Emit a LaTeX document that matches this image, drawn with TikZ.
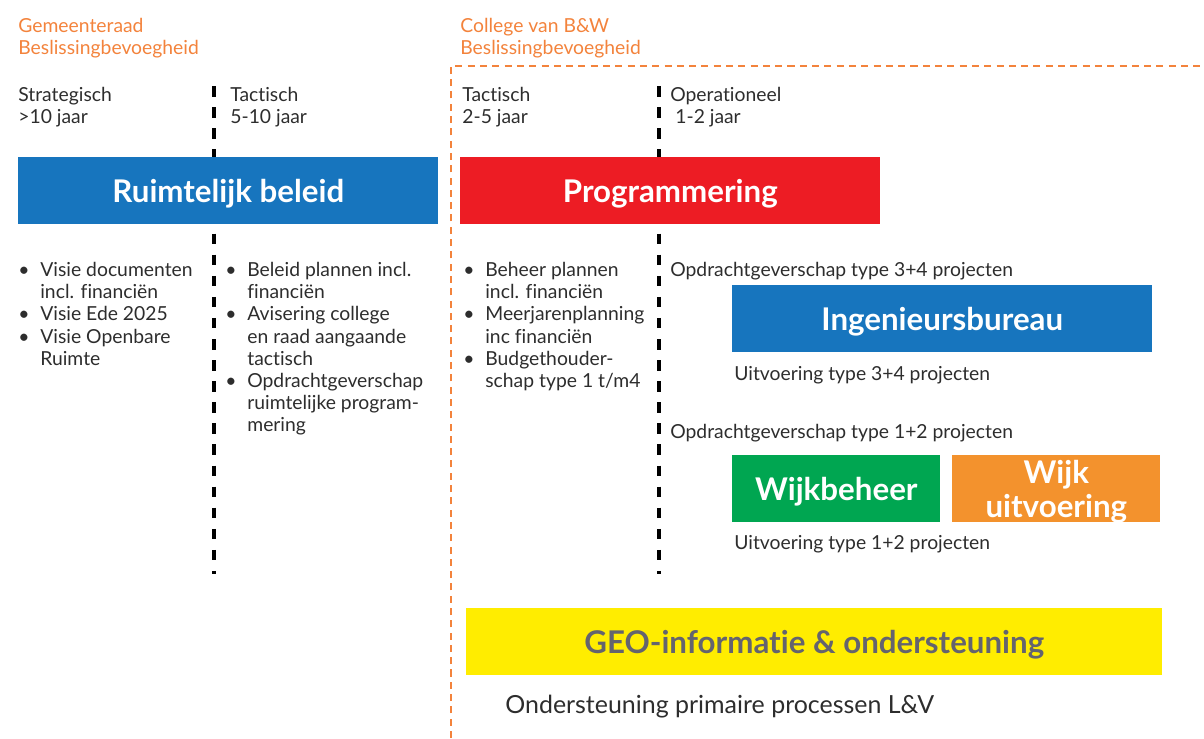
\documentclass[tikz,border=0pt]{standalone}
\usepackage{fontspec}
\setmainfont{Lato}[Ligatures=NoCommon]
\usetikzlibrary{positioning}
\definecolor{headorange}{RGB}{243,131,60}
\definecolor{bodygray}{RGB}{45,45,45}
\definecolor{beleidblue}{RGB}{23,117,190}
\definecolor{progred}{RGB}{237,28,36}
\definecolor{wijkgreen}{RGB}{0,166,81}
\definecolor{wijkorange}{RGB}{243,146,45}
\definecolor{geoyellow}{RGB}{255,237,0}
\definecolor{geogray}{RGB}{100,100,110}
\newcommand{\bulitem}{\makebox[0.44cm][l]{\textbullet}}
\newcommand{\bulcont}{\hspace*{0.44cm}}

\begin{document}
\begin{tikzpicture}[x=0.02cm,y=-0.02cm]
    \tikzstyle{every node}=[font=\fontsize{11}{12.6}\selectfont, text=bodygray, inner sep=0pt]
    \tikzstyle{label}=[anchor=north west, align=left]
    \tikzstyle{header}=[label, text=headorange]
    \tikzstyle{block}=[anchor=north west, minimum height=1.34cm, align=center, text depth=0pt,
        text=white, font=\fontsize{17.8}{19.5}\selectfont\bfseries]
    \tikzstyle{timeline}=[line width=1.9pt, dash pattern=on 6pt off 6pt]

    \useasboundingbox (0,0) rectangle (1204,738);

    % Headers
    \node[header] at (18,18) (Hraad) {Gemeenteraad\\Beslissingbevoegheid};
    \node[header] at (460,18) (Hcollege) {College van B\&W\\Beslissingbevoegheid};

    % Frame of the college
    \coordinate (Fbot) at (451,738);
    \coordinate (Fcorner) at (451,66);
    \coordinate (Fright) at (1204,66);
    \draw[headorange, line width=0.6pt, dash pattern=on 4pt off 3pt] (Fbot) -- (Fcorner) -- (Fright);

    % Time lines
    \coordinate (T1top) at (214,86);
    \coordinate (T1bot) at (214,574);
    \coordinate (T2top) at (659,86);
    \coordinate (T2bot) at (659,574);
    \draw[timeline] (T1top) -- (T1bot);
    \draw[timeline] (T2top) -- (T2bot);

    % Terms
    \node[label] at (18,87) (Pstrat) {Strategisch\\>10 jaar};
    \node[label] at (230,87) (Ptact) {Tactisch\\5-10 jaar};
    \node[label] at (462,87) (Ptact2) {Tactisch\\2-5 jaar};
    \node[label] at (670,87) (Poper) {Operationeel\\\hspace*{0.1cm}1-2 jaar};

    % Blocks
    \node[block, fill=beleidblue, minimum width=8.4cm] at (18,157) (Bbeleid) {Ruimtelijk beleid};
    \node[block, fill=progred, minimum width=8.4cm] at (460,157) (Bprog) {Programmering};
    \node[block, fill=beleidblue, minimum width=8.4cm] at (732,285) (Bingen) {Ingenieursbureau};
    \node[block, fill=wijkgreen, minimum width=4.16cm] at (732,455) (Bwbeheer) {Wijkbeheer};
    \node[block, fill=wijkorange, minimum width=4.16cm] at (952,455) (Bwuitv) {Wijk\\uitvoering};
    \node[block, fill=geoyellow, minimum width=13.92cm, text=geogray] at (466,608) (Bgeo) {GEO-informatie \& ondersteuning};

    % Bullets
    \node[label] at (18,262) (Lstrat) {\bulitem Visie documenten\\\bulcont incl. financiën\\
        \bulitem Visie Ede 2025\\\bulitem Visie Openbare\\\bulcont Ruimte};
    \node[label] at (225,262) (Ltact) {\bulitem Beleid plannen incl.\\\bulcont financiën\\
        \bulitem Avisering college\\\bulcont en raad aangaande\\\bulcont tactisch\\
        \bulitem Opdrachtgeverschap\\\bulcont ruimtelijke program-\\\bulcont mering};
    \node[label] at (463,262) (Ltact2) {\bulitem Beheer plannen\\\bulcont incl. financiën\\
        \bulitem Meerjarenplanning\\\bulcont inc financiën\\
        \bulitem Budgethouder-\\\bulcont schap type 1 t/m4};

    % Captions
    \node[label] at (670,262) (Copdr34) {Opdrachtgeverschap type 3+4 projecten};
    \node[label] at (734,366) (Cuitv34) {Uitvoering type 3+4 projecten};
    \node[label] at (670,424) (Copdr12) {Opdrachtgeverschap type 1+2 projecten};
    \node[label] at (734,535) (Cuitv12) {Uitvoering type 1+2 projecten};
    \node[label, font=\fontsize{14.2}{16}\selectfont] at (505,695) (Csteun) {Ondersteuning primaire processen L\&V};

\end{tikzpicture}
\end{document}
